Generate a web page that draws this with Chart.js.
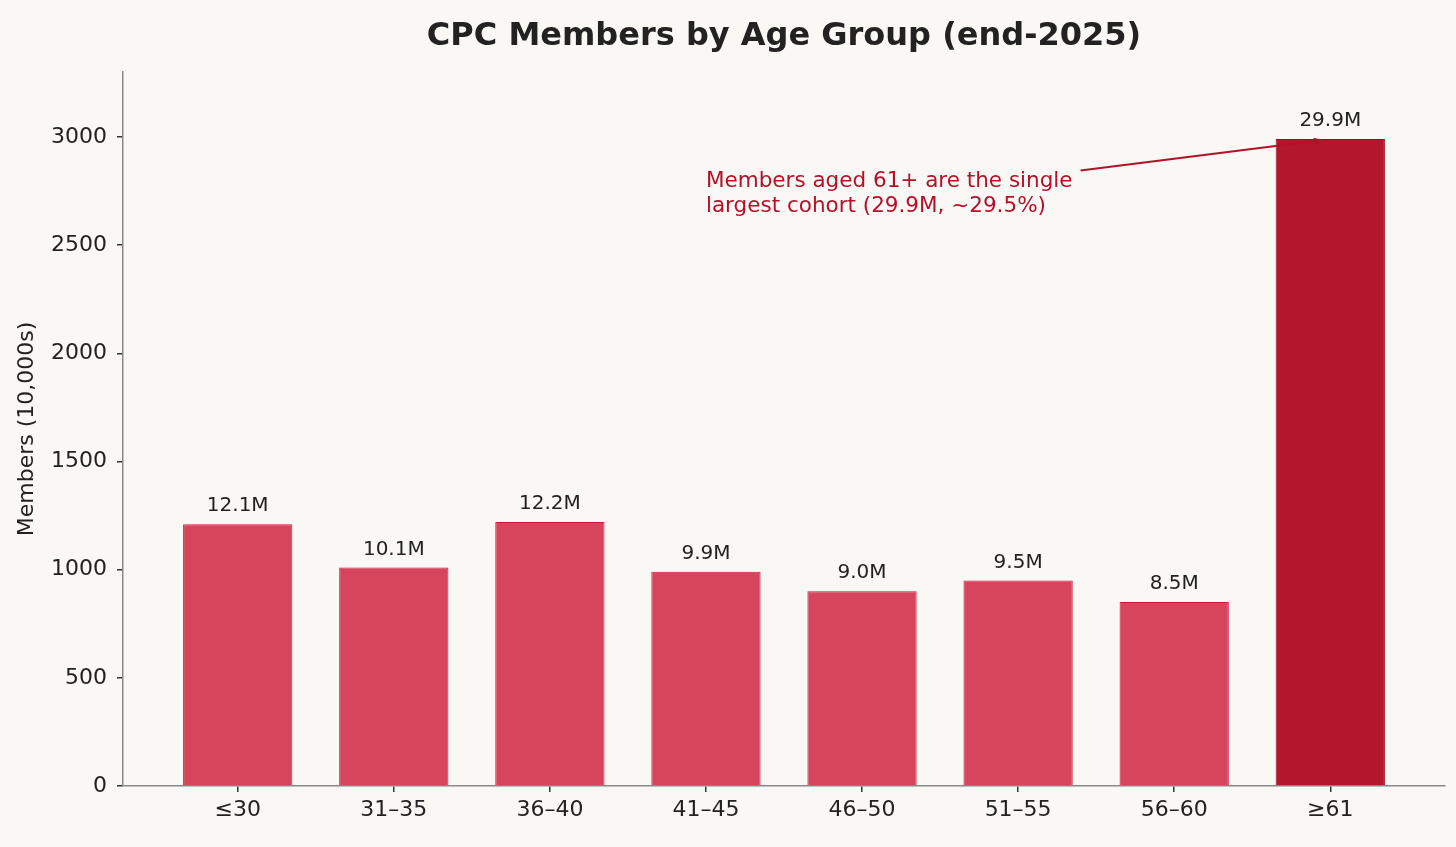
<!DOCTYPE html>
<html>
<head>
<meta charset="utf-8">
<script src="https://cdn.jsdelivr.net/npm/chart.js@4.4.1/dist/chart.umd.min.js"></script>
<style>
  html, body { margin: 0; padding: 0; background: #f9f8f5; }
  #wrap { width: 1456px; height: 847px; }
</style>
</head>
<body>
<div id="wrap"><canvas id="cpcChart" width="1456" height="847"></canvas></div>
<script>
// Datos: militantes por grupo de edad (unidad: 10.000 personas)
const ageGroups = ['≤30', '31–35', '36–40', '41–45', '46–50', '51–55', '56–60', '≥61'];
const members = [1210, 1010, 1220, 990, 900, 950, 850, 2990];
const valueLabels = ['12.1M', '10.1M', '12.2M', '9.9M', '9.0M', '9.5M', '8.5M', '29.9M'];
const yTicks = [0, 500, 1000, 1500, 2000, 2500, 3000];

const FONT = "'DejaVu Sans', sans-serif";
const LIGHT = '#d7455c';
const DARK = '#b3172d';

// Nota con flecha hacia la última barra (coordenadas en unidades de datos)
const note = {
  lines: ['Members aged 61+ are the single', 'largest cohort (29.9M, ~29.5%)'],
  x: 3.0, y: 2793, lineGap: 25,
  from: [5.40, 2845], to: [7, 2990],
  color: '#b5102a'
};

// Plugin propio: título, etiqueta del eje Y, valores sobre barras y la nota
const extras = {
  id: 'extras',
  afterDraw(chart) {
    const ctx = chart.ctx;
    const area = chart.chartArea;
    const xs = chart.scales.x, ys = chart.scales.y;
    ctx.save();

    // título
    ctx.fillStyle = '#222';
    ctx.font = 'bold 32px ' + FONT;
    ctx.textAlign = 'center';
    ctx.textBaseline = 'middle';
    ctx.fillText('CPC Members by Age Group (end-2025)', (area.left + area.right) / 2, 37);

    // etiqueta eje Y
    ctx.save();
    ctx.translate(27, (area.top + area.bottom) / 2);
    ctx.rotate(-Math.PI / 2);
    ctx.font = '22px ' + FONT;
    ctx.fillText('Members (10,000s)', 0, 0);
    ctx.restore();

    // valores encima de cada barra
    ctx.font = '20px ' + FONT;
    ctx.textBaseline = 'bottom';
    chart.getDatasetMeta(0).data.forEach((bar, i) => {
      ctx.fillText(valueLabels[i], bar.x, bar.y - 8);
    });

    // nota
    ctx.fillStyle = note.color;
    ctx.font = '21.5px ' + FONT;
    ctx.textAlign = 'left';
    ctx.textBaseline = 'middle';
    const tx = xs.getPixelForValue(note.x);
    const ty = ys.getPixelForValue(note.y);
    note.lines.forEach((l, i) => ctx.fillText(l, tx, ty + i * note.lineGap));

    // flecha
    const x1 = xs.getPixelForValue(note.from[0]), y1 = ys.getPixelForValue(note.from[1]);
    let x2 = xs.getPixelForValue(note.to[0]), y2 = ys.getPixelForValue(note.to[1]);
    const ang = Math.atan2(y2 - y1, x2 - x1);
    x2 -= Math.cos(ang) * 7; y2 -= Math.sin(ang) * 7;
    ctx.strokeStyle = note.color;
    ctx.lineWidth = 2;
    ctx.beginPath();
    ctx.moveTo(x1, y1);
    ctx.lineTo(x2, y2);
    ctx.stroke();
    ctx.beginPath();
    ctx.moveTo(x2, y2);
    ctx.lineTo(x2 - 10 * Math.cos(ang - 0.35), y2 - 10 * Math.sin(ang - 0.35));
    ctx.lineTo(x2 - 10 * Math.cos(ang + 0.35), y2 - 10 * Math.sin(ang + 0.35));
    ctx.closePath();
    ctx.fillStyle = note.color;
    ctx.fill();
    ctx.restore();
  }
};

new Chart(document.getElementById('cpcChart'), {
  type: 'bar',
  data: {
    datasets: [{
      data: members.map((v, i) => ({ x: i, y: v })),
      backgroundColor: members.map((v, i) => i === members.length - 1 ? DARK : LIGHT),
      borderColor: members.map((v, i) => i === members.length - 1 ? '#a8001f' : '#d0163f'),
      borderWidth: 1,
      barPercentage: 0.7,
      categoryPercentage: 1.0
    }]
  },
  options: {
    responsive: false,
    animation: false,
    devicePixelRatio: 1,
    layout: { padding: { top: 72, right: 11, left: 0, bottom: 0 } },
    plugins: {
      legend: { display: false },
      title: { display: false },
      tooltip: { enabled: false }
    },
    scales: {
      x: {
        type: 'linear',
        offset: false,
        min: -0.735,
        max: 7.735,
        afterFit(s) { s.height = 847 - 786; },
        afterBuildTicks(s) { s.ticks = ageGroups.map((_, i) => ({ value: i })); },
        ticks: {
          autoSkip: false,
          maxRotation: 0,
          padding: 5,
          color: '#222',
          font: { family: FONT, size: 22 },
          callback: (v) => ageGroups[v]
        },
        grid: { offset: false, drawOnChartArea: false, drawTicks: true, tickLength: 6, color: '#333', lineWidth: 1.5 },
        border: { color: '#888', width: 1.5 }
      },
      y: {
        min: 0,
        max: 3300,
        afterFit(s) { s.width = 123; },
        afterBuildTicks(s) { s.ticks = yTicks.map(v => ({ value: v })); },
        ticks: {
          padding: 10,
          color: '#222',
          font: { family: FONT, size: 22 },
          callback: (v) => String(v)
        },
        grid: { drawOnChartArea: false, drawTicks: true, tickLength: 6, color: '#333', lineWidth: 1.5 },
        border: { color: '#888', width: 1.5 }
      }
    }
  },
  plugins: [extras]
});
</script>
</body>
</html>
